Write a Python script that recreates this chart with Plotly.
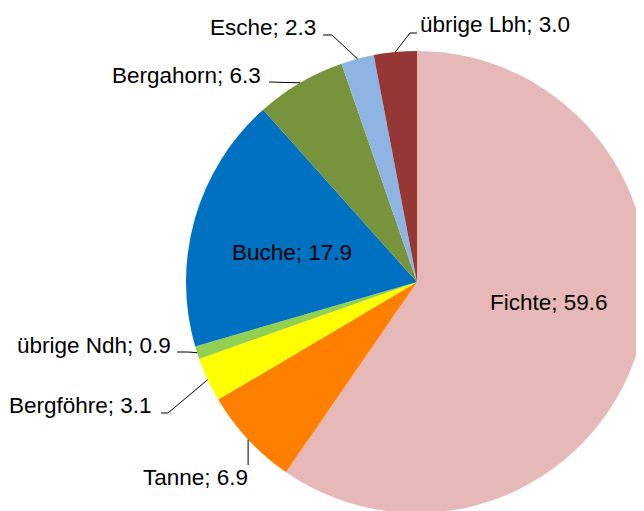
import math
import plotly.graph_objects as go

# ---- data ----
species = ["Fichte", "Tanne", "Bergföhre", "übrige Ndh", "Buche", "Bergahorn", "Esche", "übrige Lbh"]
shares = [59.6, 6.9, 3.1, 0.9, 17.9, 6.3, 2.3, 3.0]
colors = ["#E6B9B8", "#FF8000", "#FFFF00", "#92D050", "#0070C0", "#77933C", "#8EB4E3", "#953735"]

# ---- layout geometry (page pixels; the figure div sits at the body's 8px margin) ----
W, H = 644, 511
OFF = 8
CX, CY, R = 417, 282, 231

def px(x):
    return (x - OFF) / W

def py(y):
    return 1 - (y - OFF) / H

# label placement: (x, y, xanchor) in page pixels; leader points after the edge point
label_pos = {
    "Fichte": (549, 302, "center", None),
    "Tanne": (250, 477, "right", [(None, 465)]),
    "Bergföhre": (154, 405, "right", [(168, 413), (161, 413)]),
    "übrige Ndh": (173, 345, "right", [(188, 352), (177, 352)]),
    "Buche": (292, 253, "center", None),
    "Bergahorn": (263, 75, "right", [(269, 82)]),
    "Esche": (318, 27, "right", [(332, 35), (323, 35)]),
    "übrige Lbh": (418, 25, "left", [(410, 33), (417, 33)]),
}

fig = go.Figure(go.Pie(
    labels=species, values=shares, sort=False, direction="clockwise", rotation=0,
    marker=dict(colors=colors, line=dict(width=0)),
    textinfo="none", hoverinfo="label+value", showlegend=False,
    domain=dict(x=[px(CX - R), px(CX + R)], y=[py(CY + R), py(CY - R)]),
))

total = sum(shares)
cum = 0.0
font = dict(family="Liberation Sans, Arial, sans-serif", size=22.5, color="black")
for name, v in zip(species, shares):
    mid = (cum + v / 2) / total * 2 * math.pi
    cum += v
    ex = CX + R * math.sin(mid)
    ey = CY - R * math.cos(mid)
    lx, ly, anchor, leader = label_pos[name]
    fig.add_annotation(x=px(lx), y=py(ly), xref="paper", yref="paper",
                       text=f"{name}; {v:.1f}", showarrow=False,
                       xanchor=anchor, yanchor="middle", font=font)
    if leader:
        pts = [(ex, ey)] + [(ex if a is None else a, b) for a, b in leader]
        path = "M " + " L ".join(f"{px(a)} {py(b)}" for a, b in pts)
        fig.add_shape(type="path", path=path, xref="paper", yref="paper",
                      line=dict(color="black", width=1))

fig.update_layout(width=W, height=H, margin=dict(l=0, r=0, t=0, b=0),
                  paper_bgcolor="white", plot_bgcolor="white")
fig.write_html(
    "out.html",
    post_script="document.documentElement.style.overflow='hidden';document.body.style.overflow='hidden';",
)
